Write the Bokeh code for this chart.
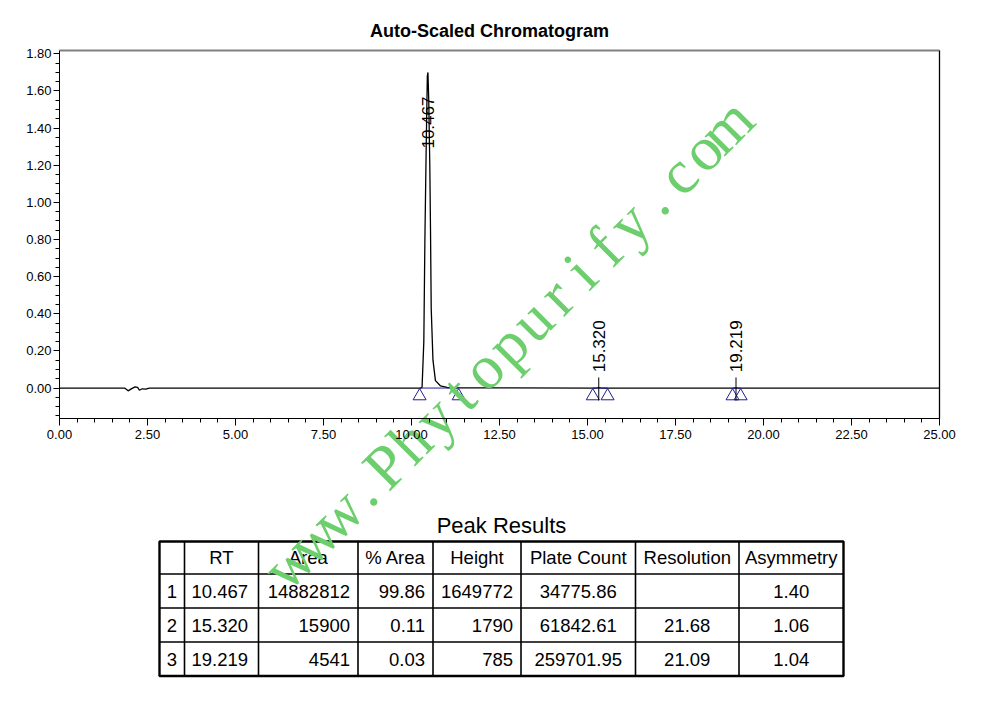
import math
from bokeh.plotting import figure
from bokeh.models import Range1d, FixedTicker, NumeralTickFormatter, LinearAxis
from bokeh.core.properties import value
from bokeh.embed import file_html
from bokeh.resources import INLINE

# ---------------- data ----------------
time_min = [0.0, 1.85, 1.95, 2.05, 2.15, 2.22, 2.27, 2.35, 2.45, 2.55,
            10.25, 10.30, 10.35, 10.38, 10.42, 10.45, 10.467, 10.49, 10.52,
            10.54, 10.56, 10.61, 10.68, 10.82, 11.01, 11.30, 15.25, 15.32,
            15.40, 19.15, 19.219, 19.30, 25.0]
signal_v = [0.0, 0.0, -0.015, -0.003, 0.006, 0.004, -0.012, -0.004, -0.006, 0.0,
            0.0, 0.003, 0.25, 0.79, 1.33, 1.68, 1.70, 1.55, 1.20,
            0.85, 0.43, 0.15, 0.04, 0.012, 0.003, 0.001, 0.0, 0.002,
            0.0, 0.0, 0.001, 0.0, 0.0]

peak_no = ["1", "2", "3"]
peak_rt = [10.467, 15.320, 19.219]
peak_start = [10.23, 15.15, 19.12]
peak_end = [11.34, 15.57, 19.35]
area = [14882812, 15900, 4541]
pct_area = [99.86, 0.11, 0.03]
peak_height = [1649772, 1790, 785]
plate_count = [34775.86, 61842.61, 259701.95]
resolution = [None, 21.68, 21.09]
asymmetry = [1.40, 1.06, 1.04]

headers = ["", "RT", "Area", "% Area", "Height", "Plate Count", "Resolution", "Asymmetry"]
x_ticks = [0.0, 2.5, 5.0, 7.5, 10.0, 12.5, 15.0, 17.5, 20.0, 22.5, 25.0]
y_ticks = [0.0, 0.2, 0.4, 0.6, 0.8, 1.0, 1.2, 1.4, 1.6, 1.8]
watermark = "www.Phytopurify.com"

# ---------------- layout constants (page pixels) ----------------
FIG_W, FIG_H = 965, 700
PAGE_OFF = 0
BOX_L, BOX_R, BOX_T, BOX_B = 59, 939, 50, 418
X_MIN, X_MAX = 0.0, 25.0
Y_MIN, Y_MAX = -0.164, 1.818

sx = (BOX_R - BOX_L) / (X_MAX - X_MIN)
sy = (BOX_B - BOX_T) / (Y_MAX - Y_MIN)
x_start = X_MIN - (BOX_L - PAGE_OFF) / sx
x_end = X_MAX + (PAGE_OFF + FIG_W - BOX_R) / sx
y_end = Y_MAX + (BOX_T - PAGE_OFF) / sy
y_start = Y_MIN - (PAGE_OFF + FIG_H - BOX_B) / sy

FONT_NAME = "Liberation Sans"
FONT = value(FONT_NAME)

p = figure(frame_width=FIG_W, frame_height=FIG_H,
           x_range=Range1d(x_start, x_end), y_range=Range1d(y_start, y_end),
           x_axis_type=None, y_axis_type=None,
           output_backend="svg", toolbar_location=None,
           min_border=0, outline_line_color=None,
           background_fill_color="white", border_fill_color="white")
p.extra_x_ranges = {"px": Range1d(PAGE_OFF, PAGE_OFF + FIG_W)}
p.extra_y_ranges = {"py": Range1d(PAGE_OFF + FIG_H, PAGE_OFF)}

# axes
x_minor = [i * 0.5 for i in range(0, 51)]
y_minor = [round(-0.15 + i * 0.05, 2) for i in range(0, 40)]

xaxis = LinearAxis(ticker=FixedTicker(ticks=x_ticks, minor_ticks=x_minor),
                   formatter=NumeralTickFormatter(format="0.00"),
                   fixed_location=Y_MIN, bounds=(X_MIN, X_MAX),
                   axis_line_color="black", axis_line_width=1,
                   major_tick_line_color="black", minor_tick_line_color="black",
                   major_tick_in=0, major_tick_out=7, minor_tick_in=0, minor_tick_out=4,
                   major_label_text_font=FONT_NAME, major_label_text_font_size="13px",
                   major_label_text_color="black", major_label_standoff=4)
p.add_layout(xaxis, "below")

yaxis = LinearAxis(ticker=FixedTicker(ticks=y_ticks, minor_ticks=y_minor),
                   formatter=NumeralTickFormatter(format="0.00"),
                   fixed_location=X_MIN, bounds=(Y_MIN, Y_MAX),
                   axis_line_color="black", axis_line_width=1,
                   major_tick_line_color="black", minor_tick_line_color="black",
                   major_tick_in=0, major_tick_out=6, minor_tick_in=0, minor_tick_out=4,
                   major_label_text_font=FONT_NAME, major_label_text_font_size="13px",
                   major_label_text_color="black", major_label_standoff=2)
p.add_layout(yaxis, "left")

# plot box: top (gray) and right (black)
p.segment(x0=[X_MIN], x1=[X_MAX], y0=[Y_MAX], y1=[Y_MAX], line_color="#808080", line_width=2)
p.segment(x0=[X_MAX], x1=[X_MAX], y0=[Y_MIN], y1=[Y_MAX], line_color="black", line_width=1.3)

# title
p.text(x=[489], y=[30], text=["Auto-Scaled Chromatogram"], x_range_name="px", y_range_name="py",
       text_font=FONT, text_font_style="bold", text_font_size="18px",
       text_align="center", text_baseline="middle", text_color="black")

# chromatogram trace
p.line(time_min, signal_v, line_color="black", line_width=1.3)

# peak baselines and markers
BLUE = "#1E1E96"
p.segment(x0=peak_start, x1=peak_end, y0=[0.0] * 3, y1=[0.0] * 3, line_color=BLUE, line_width=1)
TRI_Y = -0.043
p.scatter(x=peak_start + peak_end, y=[TRI_Y] * 6, marker="triangle", size=13,
          fill_color=None, line_color=BLUE, line_width=1)

# peak labels
LABEL_Y = [1.290, 0.085, 0.085]
p.text(x=peak_rt, y=LABEL_Y, text=[f"{rt:.3f}" for rt in peak_rt], angle=math.pi / 2,
       text_font=FONT, text_font_size="17px", text_align="left", text_baseline="middle",
       text_color="black")
p.segment(x0=peak_rt[1:], x1=peak_rt[1:], y0=[-0.067] * 2, y1=[0.057] * 2,
          line_color="black", line_width=1)

# ---------------- table ----------------
col_edges = [159, 184, 258, 357.5, 432.5, 520.5, 635, 738.5, 843]
row_edges = [541, 573.5, 607.5, 641.5, 675.5]
aligns = ["center", "left", "right", "right", "right", "center", "center", "center"]

p.text(x=[501], y=[525], text=["Peak Results"], x_range_name="px", y_range_name="py",
       text_font=FONT, text_font_size="22px", text_align="center", text_baseline="middle",
       text_color="black")

p.segment(x0=col_edges[1:-1], x1=col_edges[1:-1],
          y0=[row_edges[0]] * (len(col_edges) - 2), y1=[row_edges[-1]] * (len(col_edges) - 2),
          x_range_name="px", y_range_name="py", line_color="black", line_width=1.6)
p.segment(x0=[col_edges[0]] * (len(row_edges) - 2), x1=[col_edges[-1]] * (len(row_edges) - 2),
          y0=row_edges[1:-1], y1=row_edges[1:-1],
          x_range_name="px", y_range_name="py", line_color="black", line_width=1.6)
p.quad(left=[col_edges[0]], right=[col_edges[-1]], top=[row_edges[0]], bottom=[row_edges[-1]],
       x_range_name="px", y_range_name="py", fill_color=None, line_color="black", line_width=2.4)

rows = [headers]
for i in range(3):
    rows.append([peak_no[i], f"{peak_rt[i]:.3f}", f"{area[i]}", f"{pct_area[i]:.2f}",
                 f"{peak_height[i]}", f"{plate_count[i]:.2f}",
                 "" if resolution[i] is None else f"{resolution[i]:.2f}",
                 f"{asymmetry[i]:.2f}"])

for align in ["left", "center", "right"]:
    xs, ys, ts = [], [], []
    for r, row in enumerate(rows):
        yc = (row_edges[r] + row_edges[r + 1]) / 2
        for c, txt in enumerate(row):
            a = "center" if r == 0 else aligns[c]
            if a != align or txt == "":
                continue
            if a == "left":
                xx = col_edges[c] + 7
            elif a == "right":
                xx = col_edges[c + 1] - 8
            else:
                xx = (col_edges[c] + col_edges[c + 1]) / 2
            xs.append(xx); ys.append(yc); ts.append(txt)
    p.text(x=xs, y=ys, text=ts, x_range_name="px", y_range_name="py",
           text_font=FONT, text_font_size="18.5px", text_align=align, text_baseline="middle",
           text_color="black")

# ---------------- watermark (fixed-pitch serif lettering along a 45 degree line) ----------------
WM_X0, WM_Y0 = 276.0, 574.5     # baseline start (page px)
WM_CELL = 34.35                 # character pitch (px)
c45 = math.cos(math.pi / 4)
wm_chars = list(watermark)
wm_x = [WM_X0 + (i + 0.5) * WM_CELL * c45 for i in range(len(wm_chars))]
wm_y = [WM_Y0 - (i + 0.5) * WM_CELL * c45 for i in range(len(wm_chars))]
p.text(x=wm_x, y=wm_y, text=wm_chars,
       x_range_name="px", y_range_name="py", angle=math.pi / 4,
       text_font=value("Liberation Serif"), text_font_size="62px",
       text_color="#6CCE6C", text_align="center", text_baseline="alphabetic")

open("out.html", "w").write(file_html(p, INLINE))
